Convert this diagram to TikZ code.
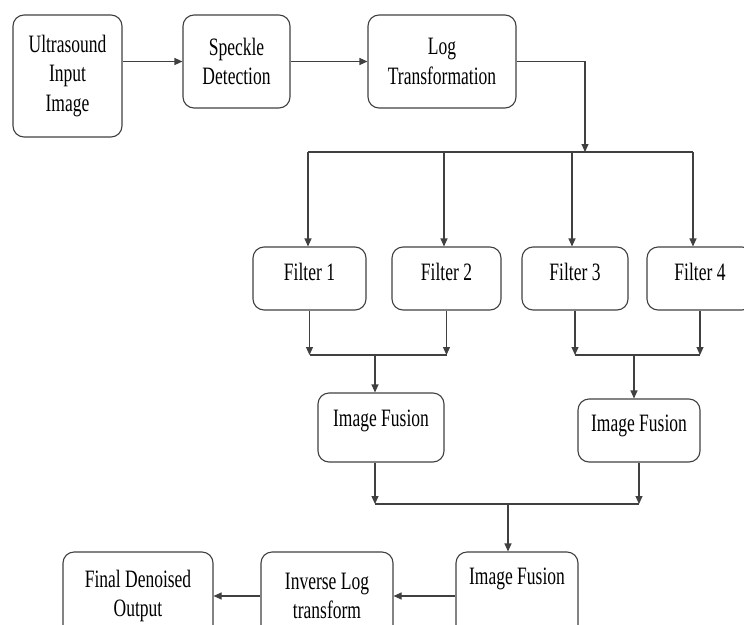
\documentclass[tikz,border=0pt]{standalone}
\usepackage{fontspec}
\setmainfont{Liberation Serif}[FakeStretch=0.70]
\usetikzlibrary{arrows.meta}

\begin{document}
\begin{tikzpicture}[x=1pt,y=-1pt]
  \tikzstyle{BoxStyle}=[draw=black!75,line width=1.1pt,rounded corners=11pt,
                        align=center,inner sep=0pt,font=\fontsize{25}{29.5}\selectfont]
  \tikzstyle{EdgeStyle}=[draw=black!75,line width=1.1pt]
  \tikzstyle{ArrowStyle}=[EdgeStyle,-{Triangle[length=8pt,width=7pt]}]
  \useasboundingbox (0,0) rectangle (744,624);
  % top row
  \node[BoxStyle,minimum width=109pt,minimum height=122pt] (US) at (67.5,76) {Ultrasound\\Input\\Image};
  \node[BoxStyle,minimum width=107pt,minimum height=93pt] (SD) at (236.5,61.5) {Speckle\\Detection};
  \node[BoxStyle,minimum width=148pt,minimum height=93pt] (LT) at (442,61.5) {Log\\Transformation};
  % filters
  \node[BoxStyle,minimum width=113pt,minimum height=63pt,text depth=14pt] (F1) at (309.5,278.5) {Filter 1};
  \node[BoxStyle,minimum width=109pt,minimum height=63pt,text depth=14pt] (F2) at (446.5,278.5) {Filter 2};
  \node[BoxStyle,minimum width=106pt,minimum height=63pt,text depth=14pt] (F3) at (575,278.5) {Filter 3};
  \node[BoxStyle,minimum width=106pt,minimum height=63pt,text depth=14pt] (F4) at (700,278.5) {Filter 4};
  % fusion
  \node[BoxStyle,minimum width=126pt,minimum height=69pt,text depth=19pt] (IF1) at (381,427.5) {Image Fusion};
  \node[BoxStyle,minimum width=122pt,minimum height=63pt,text depth=15pt] (IF2) at (639,430.5) {Image Fusion};
  % bottom row
  \node[BoxStyle,minimum width=122pt,minimum height=88pt,text depth=39pt] (IF3) at (517,596) {Image Fusion};
  \node[BoxStyle,minimum width=132pt,minimum height=88pt] (IL) at (327,596) {Inverse Log\\transform};
  \node[BoxStyle,minimum width=150pt,minimum height=88pt] (FD) at (138,596) {Final Denoised\\Output};
  % junctions
  \coordinate (split) at (585,152);
  \coordinate (T1) at (308,152);
  \coordinate (T2) at (444,152);
  \coordinate (T3) at (572,152);
  \coordinate (T4) at (693,152);
  \coordinate (J1) at (375,355);
  \coordinate (J2) at (634,355);
  \coordinate (J3) at (508,504);
  \draw[ArrowStyle] (US.east |- SD.west) -- (SD.west);
  \draw[ArrowStyle] (SD) -- (LT);
  \draw[ArrowStyle] (LT.east) -| (split);
  \draw[EdgeStyle] (T1) -- (T4);
  \foreach \t/\f in {T1/F1,T2/F2,T3/F3,T4/F4}
    \draw[ArrowStyle] (\t) -- (\t |- \f.north);
  \foreach \f/\j in {F1/J1,F2/J1,F3/J2,F4/J2}
    \draw[ArrowStyle] (\f.south) -- (\f.south |- \j);
  \draw[EdgeStyle] (F1.south |- J1) -- (F2.south |- J1);
  \draw[EdgeStyle] (F3.south |- J2) -- (F4.south |- J2);
  \draw[ArrowStyle] (J1) -- (J1 |- IF1.north);
  \draw[ArrowStyle] (J2) -- (J2 |- IF2.north);
  \draw[ArrowStyle] (J1 |- IF1.south) -- (J1 |- J3);
  \draw[ArrowStyle] (IF2.south) -- (IF2.south |- J3);
  \draw[EdgeStyle] (J1 |- J3) -- (IF2.south |- J3);
  \draw[ArrowStyle] (J3) -- (J3 |- IF3.north);
  \draw[ArrowStyle] (IF3) -- (IL);
  \draw[ArrowStyle] (IL) -- (FD);
%  \draw[ArrowStyle] (FD.south) -- ++(0,20);
\end{tikzpicture}
\end{document}
